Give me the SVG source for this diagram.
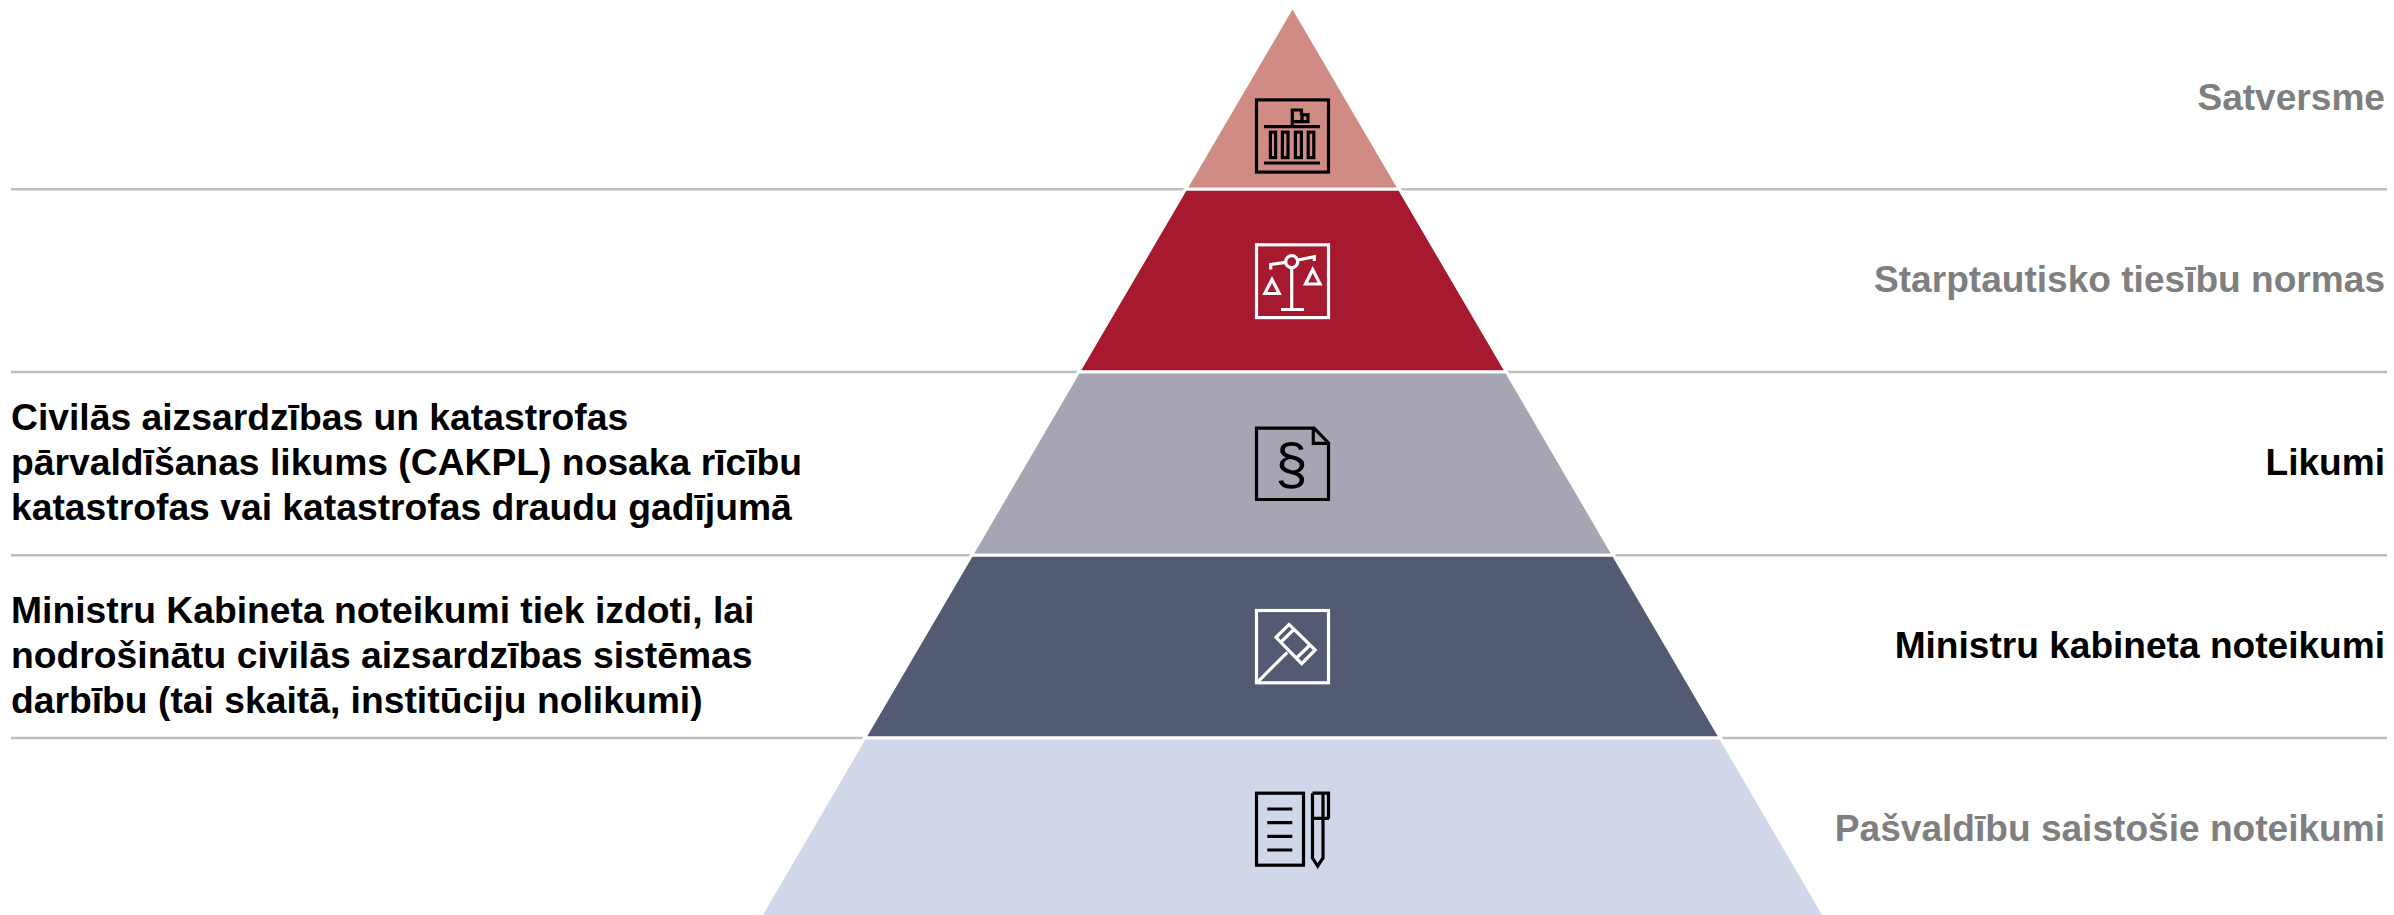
<svg xmlns="http://www.w3.org/2000/svg" width="2394" height="915" viewBox="0 0 2394 915">
<style>
text{font-family:"Liberation Sans",Arial,sans-serif;font-weight:700;font-size:37.1px;fill:#000}
.l{font-size:37.27px}
.g{fill:#7f7f7f}
.r{text-anchor:end}
.rule{stroke:#bfbfbf;stroke-width:2.6;fill:none}
.band{stroke:#fff;stroke-width:3}
.k,.w{fill:none;stroke-width:3.2;stroke-linejoin:miter}
.k{stroke:#000}
.w{stroke:#fff}
</style>
<rect width="2394" height="915" fill="#fff"/>
<g id="connectors">
<line class="rule" x1="11" y1="189.2" x2="2387" y2="189.2"/>
<line class="rule" x1="11" y1="372" x2="2387" y2="372"/>
<line class="rule" x1="11" y1="555.2" x2="2387" y2="555.2"/>
<line class="rule" x1="11" y1="738" x2="2387" y2="738"/>
</g>
<g id="layer-satversme">
<polygon class="band" fill="#d08c84" points="1292.5,6.5 1399.5,189.3 1185.5,189.3"/>
<rect class="k" x="1256.5" y="99.9" width="72" height="72.2"/>
<path class="k" d="M1264 126.7H1320M1264 163H1320M1292.3 126V110H1301.5V114.8M1292.3 121.6H1302"/>
<rect class="k" x="1302" y="114.8" width="6" height="6.8"/>
<rect class="k" x="1270.4" y="132.2" width="5.2" height="25.4"/>
<rect class="k" x="1282.4" y="132.2" width="5.6" height="25.4"/>
<rect class="k" x="1295.4" y="132.2" width="6" height="25.4"/>
<rect class="k" x="1308.2" y="132.2" width="5.6" height="25.4"/>
<text class="g r" x="2385" y="110">Satversme</text>
</g>
<g id="layer-starptautisko">
<polygon class="band" fill="#a6192e" points="1185.5,189.3 1399.5,189.3 1506.5,372 1078.5,372"/>
<rect class="w" x="1256.5" y="244.8" width="72" height="72.8"/>
<circle class="w" cx="1291.7" cy="261.7" r="6"/>
<path class="w" d="M1285.5 262.3L1270.7 264.5V269.5M1298 260L1314.3 256.7V261M1291.7 268V309M1281 309.5H1304"/>
<path class="w" d="M1272 279.5L1264.8 293.5H1279.2ZM1312.7 269.5L1305.5 284H1320Z"/>
<text class="g r" x="2385" y="292">Starptautisko tiesību normas</text>
</g>
<g id="layer-likumi">
<polygon class="band" fill="#a5a5b3" points="1078.5,372 1506.5,372 1613.5,555.2 971.5,555.2"/>
<path class="k" d="M1256.5 428.2H1314L1328.5 443V499.5H1256.5Z"/>
<path class="k" d="M1313.3 428.2V443.3H1328.5"/>
<text x="1291.5" y="484" text-anchor="middle" style="font-size:58px;font-weight:400">§</text>
<text class="r" x="2385" y="475">Likumi</text>
<text class="l" x="11" y="429.8">Civilās aizsardzības un katastrofas</text>
<text class="l" x="11" y="475">pārvaldīšanas likums (CAKPL) nosaka rīcību</text>
<text class="l" x="11" y="519.7">katastrofas vai katastrofas draudu gadījumā</text>
</g>
<g id="layer-ministru">
<polygon class="band" fill="#535b73" points="971.5,555.2 1613.5,555.2 1720.5,738 864.5,738"/>
<rect class="w" x="1256.5" y="610.5" width="72" height="72.3"/>
<path class="w" d="M1289 624.4L1315.2 650L1301.7 663.6L1276 637.3Z"/>
<path class="w" d="M1280.5 642.5L1294.5 628.8M1310.5 644.5L1296 658.5M1287.3 652.3L1257.3 682.3"/>
<text class="r" x="2385" y="658">Ministru kabineta noteikumi</text>
<text class="l" x="11" y="623.3">Ministru Kabineta noteikumi tiek izdoti, lai</text>
<text class="l" x="11" y="667.8">nodrošinātu civilās aizsardzības sistēmas</text>
<text class="l" x="11" y="713">darbību (tai skaitā, institūciju nolikumi)</text>
</g>
<g id="layer-pasvaldibu">
<polygon class="band" fill="#d0d7e8" points="864.5,738 1720.5,738 1825,917 760,917"/>
<rect class="k" x="1256.5" y="793.2" width="47" height="72"/>
<path class="k" d="M1267.3 809H1292.3M1267.3 822.7H1292.3M1267.3 836.3H1292.3M1267.3 850H1292.3"/>
<path class="k" d="M1312.5 793.2H1328.5V818.5M1312.5 793.2V858L1317.7 866L1323 858V793.2M1312.5 818.3H1329"/>
<text class="g r" x="2385" y="840.7">Pašvaldību saistošie noteikumi</text>
</g>
</svg>
